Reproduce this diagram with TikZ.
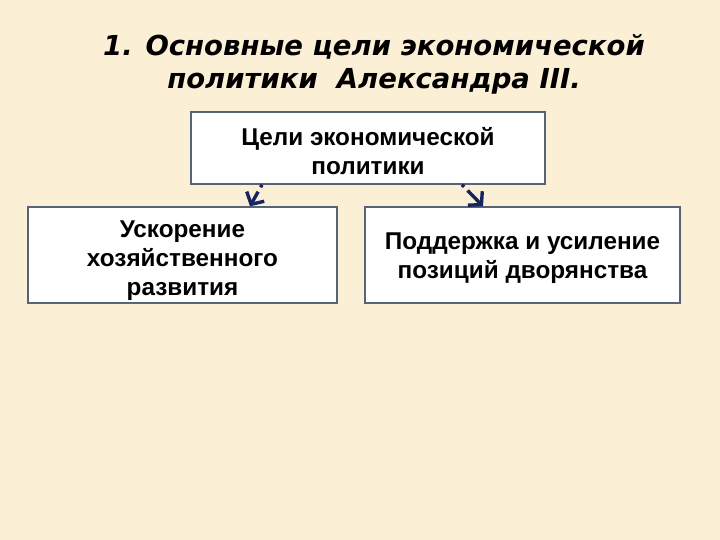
\documentclass[tikz,border=0pt]{standalone}
\usepackage{fontspec}
\setmainfont{Liberation Sans}
\newfontfamily\titlefont{DejaVu Sans}
\usetikzlibrary{arrows.meta,calc}
\definecolor{parch}{RGB}{251,239,214}
\definecolor{boxline}{RGB}{88,100,118}
\definecolor{navyarrow}{RGB}{22,36,98}
\tikzset{
  goalbox/.style={draw=boxline, line width=1.4pt, fill=white, inner sep=0pt},
  goaltext/.style={align=center, yshift=-3pt,
    font=\fontsize{24.3}{29}\selectfont\bfseries},
  goalarrow/.style={draw=navyarrow, line width=3.4pt, dash pattern=on 3pt off 5pt on 30pt,
    -{Straight Barb[length=9pt, width=20pt, line width=3.4pt]}}
}
\begin{document}
\begin{tikzpicture}[x=1pt,y=-1pt]
\fill[parch] (0,0) rectangle (720,540);
\useasboundingbox (0,0) rectangle (720,540);
\node[font=\titlefont\fontsize{27.5}{33}\selectfont\bfseries\itshape, align=center] (title) at (374,64)
  {1. Основные цели экономической\\политики\ \ Александра III.};
\node[goalbox, minimum width=354pt, minimum height=72pt,
  label={[goaltext]center:{Цели экономической\\политики}}] (top) at (368,148) {};
\node[goalbox, minimum width=309pt, minimum height=96pt,
  label={[goaltext, yshift=-3pt]center:{Ускорение\\хозяйственного\\развития}}] (left) at (182.5,255) {};
\node[goalbox, minimum width=315pt, minimum height=96pt,
  label={[goaltext]center:{Поддержка и усиление\\позиций дворянства}}] (right) at (522.5,255) {};
\draw[goalarrow] ([xshift=-106pt]top.south) -- ([xshift=67.5pt]left.north);
\draw[goalarrow] ([xshift=94pt]top.south) -- ([xshift=-39.5pt]right.north);
\end{tikzpicture}
\end{document}
